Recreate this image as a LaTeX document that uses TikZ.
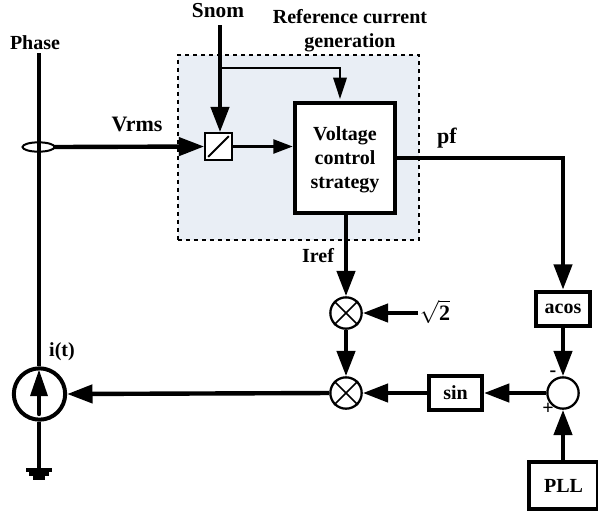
\documentclass[tikz,border=0pt]{standalone}
\usepackage{fontspec}
\usepackage{amsmath}
\setmainfont{Liberation Serif}
\usetikzlibrary{arrows.meta,shapes.geometric,calc}
\definecolor{shade}{RGB}{233,238,245}
\tikzset{
  lbl/.style={font=\bfseries\fontsize{15}{18}\selectfont,inner sep=0pt,align=center},
  lblbig/.style={font=\bfseries\fontsize{16.5}{18}\selectfont,inner sep=0pt,align=center},
  tip/.style={-{Triangle[length=19pt,width=13.5pt]}},
  tipthin/.style={-{Triangle[length=14.5pt,width=10.5pt]}},
  tiptop/.style={-{Triangle[length=16pt,width=10pt]}},
  heavy/.style={line width=3.3pt},
  thin2/.style={line width=1.8pt},
  fb/.style={draw,fill=white,inner sep=0pt,line width=3pt,font=\bfseries\fontsize{15}{18}\selectfont,align=center},
  mult/.style={circle,draw,fill=white,line width=1.7pt,minimum size=23.5pt,inner sep=0pt},
  gndline/.style={line width=2.6pt},
}
\begin{document}
\begin{tikzpicture}[x=0.75pt,y=-0.75pt]
\useasboundingbox (0,0) rectangle (598,512);
% Shaded region
\node[draw,dashed,line width=1.3pt,fill=shade,minimum width=180.75pt,minimum height=138.75pt,inner sep=0pt,anchor=north west] (region) at (177,54) {};
% blocks
\node[fb,minimum width=75.5pt,minimum height=83pt] (vcs) at (345,158) {\rule{0pt}{13.3pt}Voltage\\control\\strategy};
\node[draw,fill=white,line width=1.5pt,minimum size=20pt,inner sep=0pt] (conv) at (218.5,146.5) {};
\draw[line width=1.5pt] ($(conv.south west)+(3pt,3pt)$) coordinate (c1) -- ($(conv.north east)+(-3pt,-3pt)$) coordinate (c2);
\node[fb,minimum width=40pt,minimum height=26pt] (acos) at (563,309) {acos};
\node[fb,minimum width=39.75pt,minimum height=25.5pt] (sinb) at (455.5,393) {sin};
\node[fb,minimum width=52pt,minimum height=35pt] (pll) at (563.5,485.5) {PLL};
\node[mult] (sum) at (563,393) {};
\node[mult] (m1) at (346,313) {};
\node[mult] (m2) at (346,393) {};
\foreach \m in {m1,m2}{
  \draw[line width=1.3pt] (\m.north west) -- (\m.south east);
  \draw[line width=1.3pt] (\m.north east) -- (\m.south west);
}
\node[circle,draw,line width=3pt,minimum size=38.5pt,inner sep=0pt] (src) at (39.5,394) {};
% coordinates
\coordinate (phtop) at (39,53);
\coordinate (gnd) at (39,470);
\coordinate (snom) at (220,25);
\coordinate (rt) at (418,313);
\coordinate (vcstop) at (340,99);
\node[draw,ellipse,line width=1.5pt,minimum width=24pt,minimum height=7pt,inner sep=0pt] (sens) at (38.5,147) {};
% phase line
\draw[heavy] (phtop) -- (39,366);
\draw[heavy] (39,422) -- (gnd);
\draw[heavy,line cap=round] (39,414) -- (39,390);
\fill (39,370) -- (48,396) -- (30,396) -- cycle;
% ground
\draw[gndline] (26,470) -- (52,470);
\draw[gndline] (29,474) -- (49,474);
\draw[gndline] (33,478) -- (45,478);
% connectors
\draw[heavy,tip,shorten <=-1pt] (sens.east) -- (conv.west);
\draw[heavy,tip] (snom) -- (conv.north -| snom);
\draw[thin2,tiptop] (220,68) -| (vcstop);
\draw[thin2,tipthin] (conv.east) -- (vcs.west |- conv.east);
\draw[heavy,tip] (vcs.east |- 0,158) -| (acos.north);
\draw[heavy,tip] (vcs.south -| m1) -- (m1.north);
\draw[heavy,tip] (m1.south) -- (m2.north);
\draw[heavy,tip] (rt) -- (m1.east);
\draw[heavy,tip] (acos.south) -- (sum.north);
\draw[heavy,tip] (pll.north -| sum) -- (sum.south);
\draw[heavy,tip] (sum.west) -- (sinb.east);
\draw[heavy,tip] (sinb.west) -- (m2.east);
\draw[heavy,tip] (m2.west) -- (src.east);
% labels
\node[lbl] at (35,43) {Phase};
\node[lbl,font=\bfseries\fontsize{16}{18}\selectfont] at (218,11) {Snom};
\node[lbl] at (350,31) {Reference current\\generation};
\node[lblbig] at (137,124) {Vrms};
\node[lblbig] at (447,138) {pf};
\node[lbl] at (318,256) {Iref};
\node[lbl] at (62,352) {i(t)};
\node[lblbig] at (435,312) {$\sqrt{\text{\bfseries 2}}$};
\node[lbl] at (553,374) {-};
\node[lbl] at (548,409) {+};
\end{tikzpicture}
\end{document}
